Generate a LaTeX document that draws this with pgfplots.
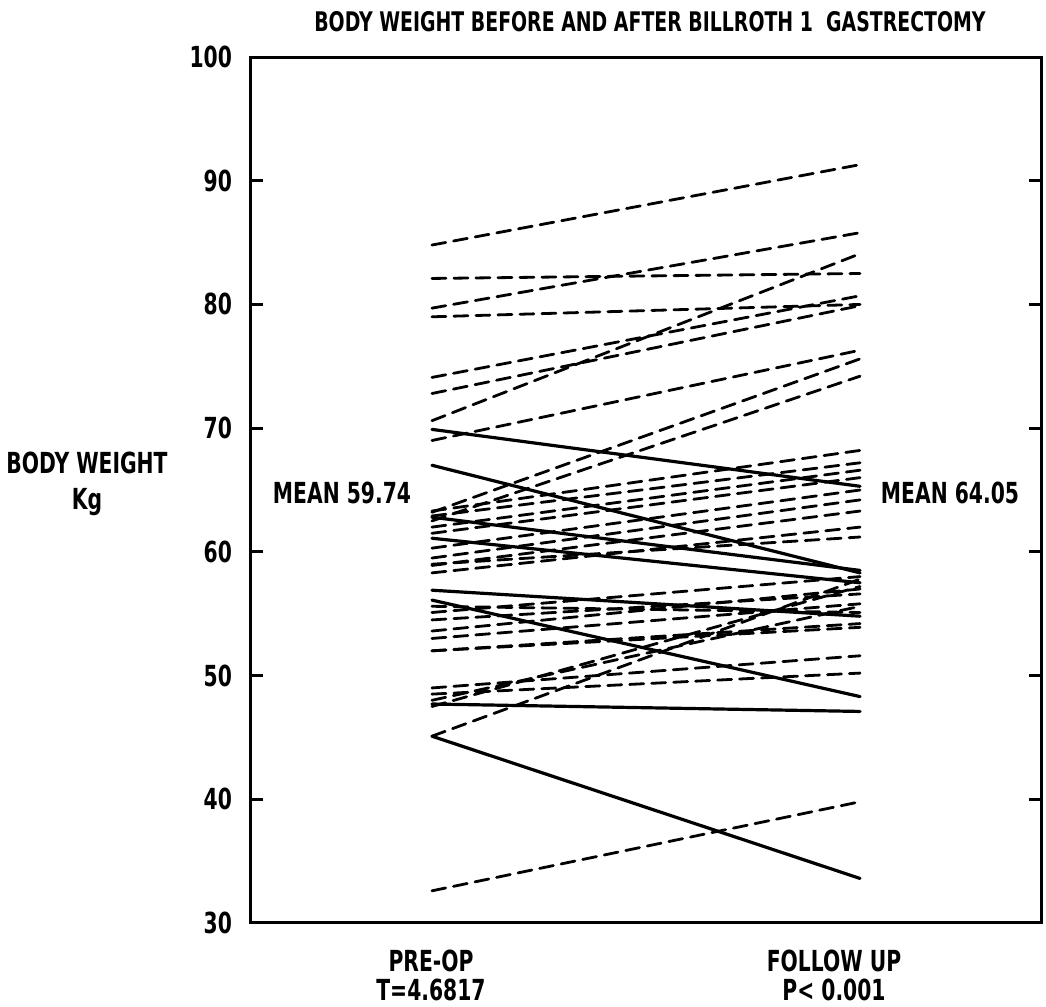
\documentclass[border=0pt]{standalone}
\usepackage{fontspec}
\setmainfont{DejaVu Sans}[FakeStretch=0.7]
\usepackage{pgfplots}
\pgfplotsset{compat=1.18}
\newcommand\lab{\bfseries\fontsize{14.5}{18}\selectfont}
\begin{document}
\begin{tikzpicture}
\useasboundingbox (-125.5pt,-42pt) rectangle (397.5pt,461.5pt);
\begin{axis}[at={(0pt,0pt)}, anchor=south west, scale only axis,
  width=395pt, height=433pt,
  xmin=0.5773, xmax=2.4227, ymin=30, ymax=100,
  xtick=\empty, ytick={30,40,...,100},
  tick align=inside, ytick pos=both, major tick length=6pt,
  axis line style={line width=1.5pt},
  tick style={black, line width=1.5pt},
  yticklabel style={font=\lab, xshift=-6pt},
  /pgf/number format/assume math mode=true,
  clip=false,
  sol/.style={black, line width=1.6pt, line cap=round},
  das/.style={black, line width=1.4pt, dash pattern=on 7pt off 4pt, line cap=round},
]
% solid (decrease)
\addplot[sol] coordinates {(1,69.9) (2,65.3)};
\addplot[sol] coordinates {(1,67.0) (2,58.3)};
\addplot[sol] coordinates {(1,62.8) (2,58.5)};
\addplot[sol] coordinates {(1,61.1) (2,57.5)};
\addplot[sol] coordinates {(1,56.9) (2,54.8)};
\addplot[sol] coordinates {(1,56.1) (2,48.3)};
\addplot[sol] coordinates {(1,47.7) (2,47.1)};
\addplot[sol] coordinates {(1,45.1) (2,33.6)};
% dashed (increase)
\addplot[das] coordinates {(1,84.8) (2,91.3)};
\addplot[das] coordinates {(1,82.1) (2,82.5)};
\addplot[das] coordinates {(1,79.7) (2,85.8)};
\addplot[das] coordinates {(1,79.0) (2,80.0)};
\addplot[das] coordinates {(1,74.1) (2,80.7)};
\addplot[das] coordinates {(1,72.8) (2,79.9)};
\addplot[das] coordinates {(1,70.6) (2,84.1)};
\addplot[das] coordinates {(1,69.0) (2,76.3)};
\addplot[das] coordinates {(1,63.2) (2,75.6)};
\addplot[das] coordinates {(1,62.5) (2,74.2)};
\addplot[das] coordinates {(1,63.3) (2,68.2)};
\addplot[das] coordinates {(1,62.9) (2,67.2)};
\addplot[das] coordinates {(1,62.0) (2,66.6)};
\addplot[das] coordinates {(1,61.5) (2,66.0)};
\addplot[das] coordinates {(1,60.3) (2,65.0)};
\addplot[das] coordinates {(1,59.5) (2,64.2)};
\addplot[das] coordinates {(1,58.9) (2,63.3)};
\addplot[das] coordinates {(1,58.3) (2,62.0)};
\addplot[das] coordinates {(1,59.0) (2,61.2)};
\addplot[das] coordinates {(1,55.1) (2,58.0)};
\addplot[das] coordinates {(1,54.5) (2,56.6)};
\addplot[das] coordinates {(1,53.6) (2,57.0)};
\addplot[das] coordinates {(1,53.0) (2,55.8)};
\addplot[das] coordinates {(1,52.0) (2,54.2)};
\addplot[das] coordinates {(1,52.0) (2,53.9)};
\addplot[das] coordinates {(1,55.6) (2,55.1)};
\addplot[das] coordinates {(1,49.0) (2,51.6)};
\addplot[das] coordinates {(1,48.5) (2,50.2)};
\addplot[das] coordinates {(1,48.0) (2,55.6)};
\addplot[das] coordinates {(1,47.5) (2,57.2)};
\addplot[das] coordinates {(1,45.1) (2,57.8)};
\addplot[das] coordinates {(1,32.6) (2,39.8)};
\end{axis}
\node[font=\bfseries\fontsize{13.5}{15}\selectfont] at ({(650-251)*0.5pt},{(923-22)*0.5pt}) {BODY WEIGHT BEFORE AND AFTER BILLROTH 1\ \ GASTRECTOMY};
\node[font=\lab, align=center] at ({(87-251)*0.5pt},{(923-484)*0.5pt}) {BODY WEIGHT\\Kg};
\node[font=\lab] at ({(342-251)*0.5pt},{(923-493)*0.5pt}) {MEAN 59.74};
\node[font=\lab] at ({(950-251)*0.5pt},{(923-493)*0.5pt}) {MEAN 64.05};
\node[font=\lab] at ({(431-251)*0.5pt},{(923-961)*0.5pt}) {PRE-OP};
\node[font=\lab] at ({(431-251)*0.5pt},{(923-990)*0.5pt}) {T=4.6817};
\node[font=\lab] at ({(834-251)*0.5pt},{(923-961)*0.5pt}) {FOLLOW UP};
\node[font=\lab] at ({(834-251)*0.5pt},{(923-990)*0.5pt}) {P< 0.001};
\end{tikzpicture}
\end{document}
